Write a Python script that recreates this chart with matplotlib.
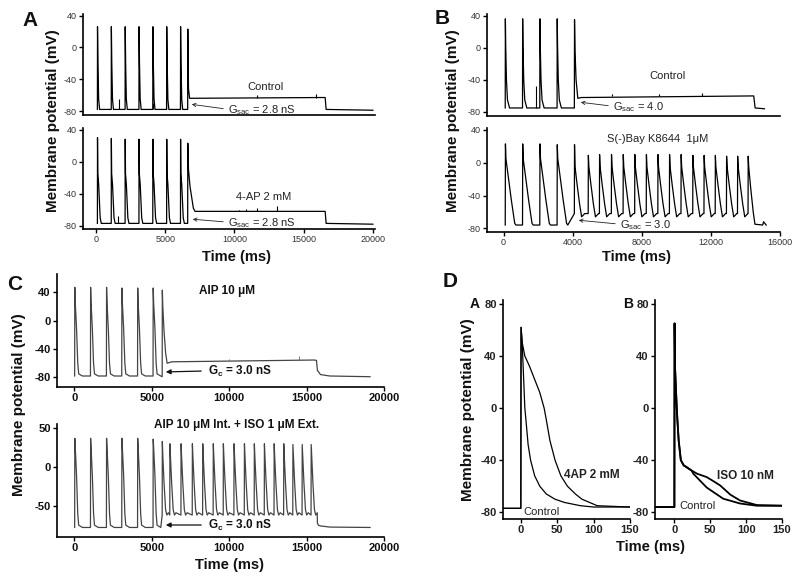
import matplotlib
matplotlib.use("Agg")
import matplotlib.pyplot as plt

plt.rcParams['font.family'] = ['Liberation Sans', 'DejaVu Sans']
plt.rcParams['mathtext.fontset'] = 'custom'
plt.rcParams['mathtext.rm'] = 'Liberation Sans'
plt.rcParams['mathtext.bf'] = 'Liberation Sans:bold'
plt.rcParams['axes.unicode_minus'] = False

W, H = 800, 581

# ---------------- data ----------------
# Panel A (control / 4-AP), times in ms, voltages in mV
A_spike_t = [100, 1100, 2100, 3100, 4100, 5100, 6100]
A_ctrl_peaks = [26, 26, 26, 26, 26, 26, 26]
A_ctrl_shape_dt = [0, 8, 40, 90, 160]
A_ctrl_shape_v = [-78, None, -20, -65, -78]
A_ctrl_tail_t = [6620, 6630, 6680, 6760, 16550, 16620, 20000]
A_ctrl_tail_v = [-78, 23, -52, -64, -63, -78, -79]
A_ctrl_blip_t = [1650, 4150, 5050, 6050, 11600, 15900]
A_ctrl_blip_base = [-78, -78, -78, -78, -63, -63]
A_ctrl_blip_v = [-65, -70, -68, -66, -60, -58]

A_4ap_peaks = [30, 29, 28, 28, 28, 28, 28]
A_4ap_shape_dt = [0, 8, 30, 90, 200, 280]
A_4ap_shape_v = [-77, None, -15, -28, -70, -77]
A_4ap_tail_t = [6620, 6630, 6680, 6790, 7030, 7150, 16550, 16620, 20000]
A_4ap_tail_v = [-77, 23, -10, -31, -58, -62, -62, -77, -78]
A_4ap_blip_t = [1600, 10300, 10800, 11600, 13050]
A_4ap_blip_base = [-77, -62, -62, -62, -62]
A_4ap_blip_v = [-68, -60, -59, -58, -55]

# Panel B (control / S(-)Bay K8644)
B_ctrl_spike_t = [100, 1100, 2100, 3100]
B_ctrl_peaks = [36, 36, 36, 36]
B_ctrl_shape_dt = [0, 8, 30, 70, 130, 250]
B_ctrl_shape_v = [-75, None, 0, -40, -65, -75]
B_ctrl_tail_t = [4100, 4110, 4140, 4200, 4300, 4500, 14480, 14560, 15100]
B_ctrl_tail_v = [-75, 35, -5, -40, -63, -62, -60, -75, -76]
B_ctrl_blip_t = [1890, 6300, 9000, 11500]
B_ctrl_blip_base = [-75, -60, -60, -60]
B_ctrl_blip_v = [-48, -57, -58, -56]

B_bay_spike_t = [100, 1100, 2100, 3100]
B_bay_peaks = [23, 23, 23, 22]
B_bay_shape_dt = [0, 12, 40, 120, 350, 550, 620]
B_bay_shape_v = [-76, None, 5, -8, -45, -74, -76]
B_bay_rep_t = [4100, 4900, 5550, 6240, 6920, 7590, 8260, 8930, 9600,
               10270, 10950, 11600, 12250, 12900, 13540]
B_bay_rep_peaks = [22, 9, 10, 10, 10, 10, 10, 10, 10, 10, 9, 9, 9, 8, 8]
B_bay_rep_dt = [0, 10, 40, 150, 300, 420, 600]
B_bay_rep_v = [-62, None, -5, -25, -50, -66, -62]
B_bay_tail_t = [14150, 14160, 14190, 14300, 14450, 14550, 15000, 15050, 15200]
B_bay_tail_v = [-62, 8, -5, -30, -60, -75, -76, -72, -76]

# Panel C (AIP / AIP + ISO)
C_spike_t = [30, 1050, 2080, 3070, 4090, 5090]
C_top_peaks = [47, 47, 47, 46, 46, 46]
C_shape_dt = [0, 10, 40, 120, 200, 260, 500]
C_shape_v = [-78, None, 25, -10, -60, -75, -78]
C_top_tail_t = [5680, 5690, 5720, 5800, 5900, 6000, 6300, 10000, 15500,
                15640, 15700, 15900, 16500, 19100]
C_top_tail_v = [-79, 43, 20, -15, -45, -60, -58, -57, -55.5, -56, -70, -76, -78, -79]
C_top_blip_t = [10000, 14500]
C_top_blip_base = [-57, -55.5]
C_top_blip_v = [-54, -50]

C_bot_peaks = [37, 37, 37, 37, 37, 36]
C_rep_t = [5680, 6170, 6890, 7620, 8290, 8970, 9620, 10310, 10980, 11620,
           12270, 12900, 13520, 14110, 14710, 15290]
C_rep_peaks = [33, 30, 30, 30, 30, 30, 30, 30, 30, 30, 30, 30, 30, 29, 29, 29]
C_rep_dt = [0, 10, 40, 120, 220, 300, 400]
C_rep_v = [-62, None, 15, -20, -55, -62, -59]
C_bot_tail_t = [15700, 15760, 15900, 16500, 19100]
C_bot_tail_v = [-72, -75, -76, -77.5, -78]

# Panel D (single action potentials)
DA_ctrl_t = [-25, 0, 0.3, 2, 5.5, 7, 10, 13.4, 19, 26, 35, 47, 60, 82, 100, 150]
DA_ctrl_v = [-77, -77, 62, 48, 0, -9, -28, -40, -52, -60, -66, -70, -72.5, -75, -76, -76]
DA_4ap_t = [-25, 0, 0.3, 2, 5.5, 12, 19, 26, 32, 35, 40, 47, 55, 64, 75, 84, 105, 150]
DA_4ap_v = [-77, -77, 62, 50, 40, 32, 22, 12, 0, -9, -25, -40, -52, -60, -66, -70, -75, -76]

DB_ctrl_t = [-27, 0, 0.3, 1, 3.3, 4.2, 6, 9, 13, 17.3, 24, 26.4, 45, 68, 91.6, 115, 150]
DB_ctrl_v = [-76, -76, 65, 30, 0, -9, -25, -40, -44, -45.5, -48, -50.4, -61, -69.6, -73.3, -75, -75]
DB_iso_t = [-27, 0, 0.3, 1, 3.3, 4.2, 6, 9, 13, 17.3, 24, 32, 45, 54, 64, 78, 91.6, 115, 150]
DB_iso_v = [-76, -76, 65, 30, 0, -9, -25, -40, -44, -45.5, -48, -50.5, -53, -56, -59.5, -66.5, -71, -74.5, -75]


# ---------------- helpers ----------------
def train(times, peaks, dts, shape):
    t, v = [], []
    for t0, pk in zip(times, peaks):
        t += [t0 + d for d in dts]
        v += [pk if s is None else s for s in shape]
    return t, v


def box(l, t, r, b):
    return [l / W, 1 - b / H, (r - l) / W, (b - t) / H]


def fp(x, y):
    return (x / W, 1 - y / H)


def style(ax, tick_fs, bold=False, color='#333333'):
    for s in ['top', 'right']:
        ax.spines[s].set_visible(False)
    for s in ['left', 'bottom']:
        ax.spines[s].set_linewidth(1.2)
    ax.tick_params(direction='out', length=3, width=1, labelsize=tick_fs,
                   labelcolor=color, pad=1.5)
    if bold:
        for lab in ax.get_xticklabels() + ax.get_yticklabels():
            lab.set_fontweight('bold')


fig = plt.figure(figsize=(8, 5.81), dpi=100)

tr_kw = dict(color='black', lw=0.9)

# ---------------- Panel A ----------------
axA1 = fig.add_axes(box(83, 14, 375, 115))
t, v = train(A_spike_t, A_ctrl_peaks, A_ctrl_shape_dt, A_ctrl_shape_v)
axA1.plot(t + A_ctrl_tail_t, v + A_ctrl_tail_v, **tr_kw)
axA1.vlines(A_ctrl_blip_t, A_ctrl_blip_base, A_ctrl_blip_v, color='black', lw=0.8)
axA1.set_xlim(-940, 20150)
axA1.set_ylim(-85, 42)
axA1.set_yticks([-80, -40, 0, 40])
axA1.set_xticks([])
style(axA1, 6.5)

axA2 = fig.add_axes(box(83, 128, 375, 229))
t, v = train(A_spike_t, A_4ap_peaks, A_4ap_shape_dt, A_4ap_shape_v)
axA2.plot(t + A_4ap_tail_t, v + A_4ap_tail_v, **tr_kw)
axA2.vlines(A_4ap_blip_t, A_4ap_blip_base, A_4ap_blip_v, color='black', lw=0.8)
axA2.set_xlim(-940, 20150)
axA2.set_ylim(-84, 42)
axA2.set_yticks([-80, -40, 0, 40])
axA2.set_xticks([0, 5000, 10000, 15000, 20000])
style(axA2, 6.5)

# ---------------- Panel B ----------------
axB1 = fig.add_axes(box(487, 14, 780, 116))
t, v = train(B_ctrl_spike_t, B_ctrl_peaks, B_ctrl_shape_dt, B_ctrl_shape_v)
axB1.plot(t + B_ctrl_tail_t, v + B_ctrl_tail_v, **tr_kw)
axB1.vlines(B_ctrl_blip_t, B_ctrl_blip_base, B_ctrl_blip_v, color='black', lw=0.8)
axB1.set_xlim(-955, 16000)
axB1.set_ylim(-85, 42)
axB1.set_yticks([-80, -40, 0, 40])
axB1.set_xticks([])
style(axB1, 6.5)

axB2 = fig.add_axes(box(487, 128, 780, 232))
t1, v1 = train(B_bay_spike_t, B_bay_peaks, B_bay_shape_dt, B_bay_shape_v)
t2, v2 = train(B_bay_rep_t, B_bay_rep_peaks, B_bay_rep_dt, B_bay_rep_v)
axB2.plot(t1 + t2 + B_bay_tail_t, v1 + v2 + B_bay_tail_v, **tr_kw)
axB2.set_xlim(-955, 16000)
axB2.set_ylim(-84.5, 42.4)
axB2.set_yticks([-80, -40, 0, 40])
axB2.set_xticks([0, 4000, 8000, 12000, 16000])
style(axB2, 6.5)

# ---------------- Panel C ----------------
c_kw = dict(color='#444444', lw=0.9)
axC1 = fig.add_axes(box(57, 274, 384, 387))
t, v = train(C_spike_t, C_top_peaks, C_shape_dt, C_shape_v)
axC1.plot(t + C_top_tail_t, v + C_top_tail_v, **c_kw)
axC1.vlines(C_top_blip_t, C_top_blip_base, C_top_blip_v, color='#777777', lw=0.7)
axC1.set_xlim(-1110, 20000)
axC1.set_ylim(-93.5, 65.7)
axC1.set_yticks([-80, -40, 0, 40])
axC1.set_xticks([0, 5000, 10000, 15000, 20000])
style(axC1, 8, bold=True, color='#111111')

axC2 = fig.add_axes(box(57, 424, 384, 537))
t1, v1 = train(C_spike_t, C_bot_peaks, C_shape_dt, C_shape_v)
t2, v2 = train(C_rep_t, C_rep_peaks, C_rep_dt, C_rep_v)
axC2.plot(t1 + t2 + C_bot_tail_t, v1 + v2 + C_bot_tail_v, **c_kw)
axC2.set_xlim(-1110, 20000)
axC2.set_ylim(-90.3, 55.5)
axC2.set_yticks([-50, 0, 50])
axC2.set_xticks([0, 5000, 10000, 15000, 20000])
style(axC2, 8, bold=True, color='#111111')

# ---------------- Panel D ----------------
axDA = fig.add_axes(box(503, 300, 630, 519))
axDA.plot(DA_4ap_t, DA_4ap_v, color='black', lw=0.9)
axDA.plot(DA_ctrl_t, DA_ctrl_v, color='black', lw=0.9)
axDA.set_xlim(-24.5, 150)
axDA.set_ylim(-85.2, 83)
axDA.set_yticks([-80, -40, 0, 40, 80])
axDA.set_xticks([0, 50, 100, 150])
style(axDA, 8, bold=True, color='#222222')

axDB = fig.add_axes(box(655, 300, 782, 519))
axDB.plot(DB_iso_t, DB_iso_v, color='black', lw=1.3)
axDB.plot(DB_ctrl_t, DB_ctrl_v, color='black', lw=1.3)
axDB.set_xlim(-27, 150)
axDB.set_ylim(-85.2, 83)
axDB.set_yticks([-80, -40, 0, 40, 80])
axDB.set_xticks([0, 50, 100, 150])
style(axDB, 8, bold=True, color='#222222')

# ---------------- labels ----------------
txt = '#111111'
for lab, (x, y), fs in [('A', (30, 20), 15), ('B', (442, 18), 15),
                        ('C', (15, 284), 15), ('D', (450, 282), 15),
                        ('A', (475, 304), 10), ('B', (628, 304), 10)]:
    fig.text(*fp(x, y), lab, fontsize=fs, fontweight='bold', ha='center',
             va='center', color=txt)

for (x, y), fs in [((53, 121), 11), ((453, 121), 11), ((19, 405), 11), ((468, 410), 11)]:
    fig.text(*fp(x, y), 'Membrane potential (mV)', rotation=90, fontsize=fs,
             fontweight='bold', ha='center', va='center', color=txt)

for (x, y) in [(236, 257), (637, 257), (230, 565), (650, 547)]:
    fig.text(*fp(x, y), 'Time (ms)', fontsize=10.5, fontweight='bold',
             ha='center', va='center', color=txt)

# annotations in A and B
small = dict(fontsize=8, color='#222222', va='center')
fig.text(*fp(265, 87), 'Control', ha='center', **small)
fig.text(*fp(264, 197), '4-AP 2 mM', ha='center', **small)
fig.text(*fp(668, 76), 'Control', ha='center', **small)
fig.text(*fp(658, 139), 'S(-)Bay K8644  1\u03bcM', ha='center', **small)

thin = dict(arrowstyle='->', lw=0.6, color='#222222', mutation_scale=6)
for label, tail, head in [('G$_{\\rm sac}$ = 2.8 nS', (228, 110), (189, 104)),
                          ('G$_{\\rm sac}$ = 2.8 nS', (228, 223), (190, 219)),
                          ('G$_{\\rm sac}$ = 4.0', (613, 107), (578, 102)),
                          ('G$_{\\rm sac}$ = 3.0', (620, 225), (576, 220))]:
    fig.text(*fp(*tail), label, ha='left', **small)
    fig.patches.append(matplotlib.patches.FancyArrowPatch(
        fp(tail[0] - 2, tail[1] - 1), fp(*head), transform=fig.transFigure,
        **thin))

# annotations in C
bold_kw = dict(fontsize=8.5, fontweight='bold', color='#111111', va='center')
fig.text(*fp(227, 291), 'AIP 10 \u03bcM', ha='center', **bold_kw)
fig.text(*fp(237, 425), 'AIP 10 \u03bcM Int. + ISO 1 \u03bcM Ext.', ha='center', **bold_kw)
for tail, head in [((208, 371), (163, 372)), ((208, 525), (163, 525))]:
    fig.text(*fp(*tail), 'G$_{\\bf c}$ = 3.0 nS', ha='left', **bold_kw)
    fig.patches.append(matplotlib.patches.FancyArrowPatch(
        fp(tail[0] - 4, tail[1]), fp(*head), transform=fig.transFigure,
        arrowstyle='-|>', lw=0.9, color='#111111', mutation_scale=7))

# annotations in D
d_kw = dict(fontsize=8.5, fontweight='bold', color='#222222', va='center', ha='center')
fig.text(*fp(592, 475), '4AP 2 mM', **d_kw)
fig.text(*fp(542, 512), 'Control', fontsize=8, color='#222222', va='center', ha='center')
fig.text(*fp(745, 476), 'ISO 10 nM', **d_kw)
fig.text(*fp(697, 506), 'Control', fontsize=8, color='#222222', va='center', ha='center')

fig.savefig('out.png', dpi=100)
